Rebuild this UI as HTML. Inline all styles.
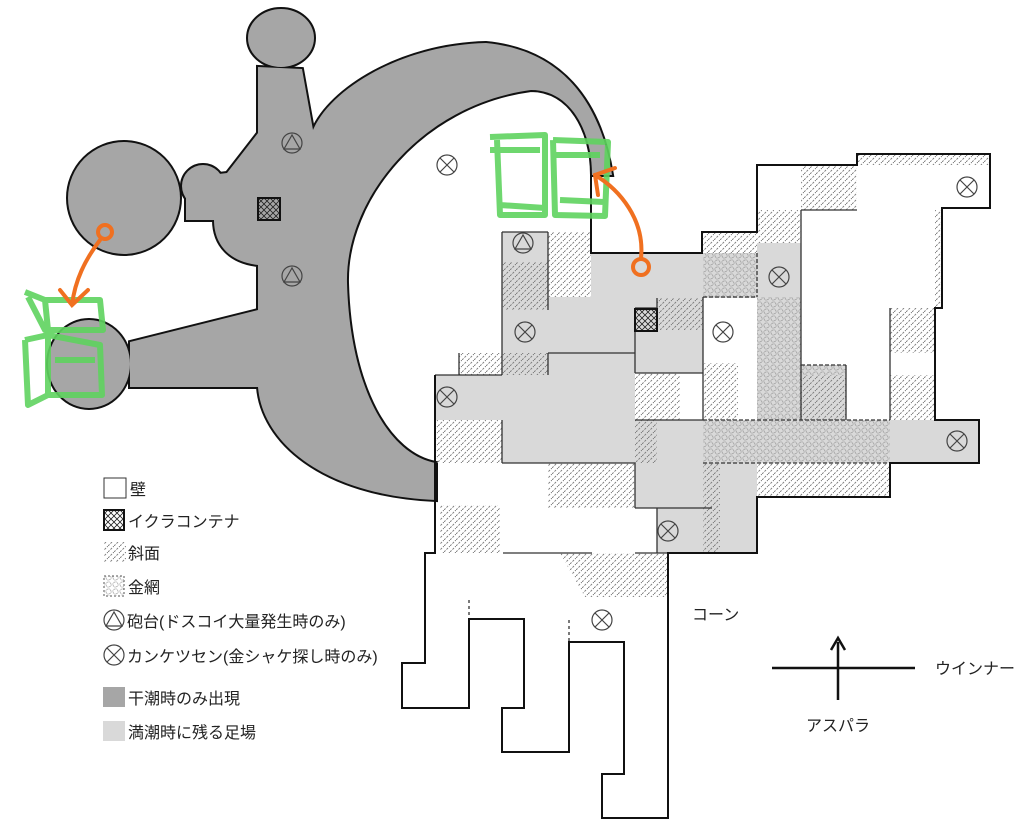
<!DOCTYPE html>
<html><head><meta charset="utf-8"><style>
html,body{margin:0;padding:0;background:#fff;}
svg{display:block;}
text{font-family:"Liberation Sans","Noto Sans CJK JP",sans-serif;font-size:16px;fill:#222;}
</style></head><body>
<svg width="1024" height="832" viewBox="0 0 1024 832" xmlns="http://www.w3.org/2000/svg">
<defs>
<pattern id="h" width="6" height="6" patternUnits="userSpaceOnUse">
<line x1="0" y1="6" x2="6" y2="0" stroke="#777" stroke-width="0.9" stroke-dasharray="2.2,1.3"/>
</pattern>
<pattern id="m" width="7" height="7" patternUnits="userSpaceOnUse">
<circle cx="3.5" cy="3.5" r="2.6" fill="none" stroke="#7a7a7a" stroke-width="0.8" stroke-dasharray="1,1"/>
</pattern>
<pattern id="x" width="6" height="6" patternUnits="userSpaceOnUse">
<path d="M0,0L6,6M6,0L0,6" stroke="#222" stroke-width="0.8"/>
</pattern>
</defs>

<!-- dark gray low-tide area -->
<g fill="#a6a6a6" stroke="#111" stroke-width="4">
<path d="M258,67 L258,133 L227,173 L186,178 L186,220 L214,220 C214,245 230,262 258,265 L258,310 L130,342 L130,387 L258,387 C262,440 320,495 436,500 L436,463 C390,455 350,390 347,283 C345,200 420,105 531,90 C570,90 592,130 592,175 L612,175 C600,100 560,50 486,43 C400,45 330,90 313,130 L302,69 Z"/>
<ellipse cx="281" cy="38" rx="33" ry="29"/>
<ellipse cx="124" cy="198" rx="56" ry="56"/>
<circle cx="203" cy="186" r="21"/>
<ellipse cx="89" cy="364" rx="41" ry="44"/>
</g>
<g fill="#a6a6a6">
<path d="M258,67 L258,133 L227,173 L186,178 L186,220 L214,220 C214,245 230,262 258,265 L258,310 L130,342 L130,387 L258,387 C262,440 320,495 436,500 L436,463 C390,455 350,390 347,283 C345,200 420,105 531,90 C570,90 592,130 592,175 L612,175 C600,100 560,50 486,43 C400,45 330,90 313,130 L302,69 Z"/>
<ellipse cx="281" cy="38" rx="33" ry="29"/>
<ellipse cx="124" cy="198" rx="56" ry="56"/>
<circle cx="203" cy="186" r="21"/>
<ellipse cx="89" cy="364" rx="41" ry="44"/>
</g>

<!-- light gray high-tide -->
<g fill="#d9d9d9">
<rect x="502" y="232" width="46" height="143"/>
<rect x="548" y="297" width="87" height="56"/>
<rect x="591" y="253" width="166" height="45"/>
<rect x="635" y="297" width="68" height="76"/>
<rect x="435" y="375" width="67" height="45"/>
<rect x="502" y="353" width="133" height="110"/>
<rect x="635" y="420" width="122" height="88"/>
<rect x="657" y="508" width="100" height="45"/>
<rect x="757" y="243" width="44" height="177"/>
<rect x="801" y="365" width="45" height="55"/>
<rect x="703" y="420" width="276" height="43"/>
</g>
<!-- mesh -->
<g fill="url(#m)">
<rect x="703" y="253" width="54" height="44"/>
<rect x="757" y="297" width="44" height="123"/>
<rect x="703" y="420" width="187" height="43"/>
<rect x="801" y="365" width="45" height="10"/>
</g>
<!-- hatch -->
<g fill="url(#h)">
<rect x="548" y="232" width="43" height="65"/>
<rect x="502" y="262" width="46" height="48"/>
<rect x="459" y="353" width="89" height="22"/>
<rect x="435" y="420" width="67" height="43"/>
<rect x="757" y="210" width="44" height="33"/>
<rect x="702" y="233" width="55" height="20"/>
<rect x="801" y="165" width="56" height="45"/>
<rect x="857" y="155" width="133" height="10"/>
<rect x="935" y="210" width="7" height="98"/>
<rect x="890" y="308" width="45" height="45"/>
<rect x="890" y="375" width="45" height="45"/>
<rect x="657" y="298" width="46" height="32"/>
<rect x="635" y="373" width="45" height="47"/>
<rect x="703" y="363" width="35" height="57"/>
<rect x="635" y="420" width="22" height="43"/>
<rect x="703" y="463" width="17" height="90"/>
<rect x="757" y="463" width="133" height="34"/>
<rect x="801" y="375" width="45" height="45"/>
<rect x="548" y="463" width="87" height="45"/>
<rect x="440" y="505" width="60" height="48"/>
<path d="M560,553 L667,553 L667,597 L585,597 Z"/>
</g>

<!-- thin internal walls -->
<g stroke="#333" stroke-width="1.3" fill="none">
<path d="M801,210H857 M801,210V420 M846,365V420 M890,308V420 M703,297V420 M635,420H703"/>
<path d="M502,232H548 M502,232V375 M548,232V310 M548,353H635 M548,353V375 M435,375H502 M459,353V375 M635,308V373 M635,373H703 M635,308H657 M657,298V308 M502,420V463 M502,463H635 M635,463V508 M635,508H712 M657,508V553 M503,553H592 M635,553H668"/>
<path d="M703,297H757 M757,253V297 M703,420H890 M703,463H890 M801,365H846" stroke-dasharray="4,2"/>
<path d="M469,600V619 M569,620V642" stroke-dasharray="3,3"/>
</g>
<!-- outer walls -->
<polyline fill="none" stroke="#111" stroke-width="2" points="591,175 591,253 702,253 702,232 757,232 757,165 857,165 857,154 990,154 990,208 942,208 942,308 935,308 935,420 979,420 979,463 890,463 890,497 757,497 757,553 668,553 668,818 602,818 602,774 624,774 624,642 569,642 569,752 502,752 502,708 524,708 524,619 469,619 469,708 402,708 402,663 425,663 425,553 435,553 435,375"/>

<!-- crates -->
<g stroke="#111" stroke-width="2" fill="url(#x)">
<rect x="635" y="309" width="22" height="22"/>
<rect x="258" y="198" width="22" height="22"/>
</g>

<!-- triangles -->
<g fill="none" stroke="#444" stroke-width="1.2">
<circle cx="292" cy="143" r="10"/><path d="M292,135 L284,149 L300,149 Z"/>
<circle cx="292" cy="276" r="10"/><path d="M292,268 L284,282 L300,282 Z"/>
<circle cx="523" cy="243" r="10"/><path d="M523,235 L515,249 L531,249 Z"/>
</g>
<!-- crosses -->
<g fill="none" stroke="#444" stroke-width="1.2">
<g transform="translate(447,165)"><circle r="10"/><path d="M-7,-7L7,7M7,-7L-7,7"/></g>
<g transform="translate(967,187)"><circle r="10"/><path d="M-7,-7L7,7M7,-7L-7,7"/></g>
<g transform="translate(779,277)"><circle r="10"/><path d="M-7,-7L7,7M7,-7L-7,7"/></g>
<g transform="translate(723,332)"><circle r="10"/><path d="M-7,-7L7,7M7,-7L-7,7"/></g>
<g transform="translate(525,332)"><circle r="10"/><path d="M-7,-7L7,7M7,-7L-7,7"/></g>
<g transform="translate(447,397)"><circle r="10"/><path d="M-7,-7L7,7M7,-7L-7,7"/></g>
<g transform="translate(957,441)"><circle r="10"/><path d="M-7,-7L7,7M7,-7L-7,7"/></g>
<g transform="translate(668,531)"><circle r="10"/><path d="M-7,-7L7,7M7,-7L-7,7"/></g>
<g transform="translate(602,620)"><circle r="10"/><path d="M-7,-7L7,7M7,-7L-7,7"/></g>
</g>

<!-- green sketches -->
<g fill="none" stroke="#5fd35f" stroke-width="6" stroke-linejoin="round" opacity="0.9">
<path d="M490,137 L545,135 L545,215 L500,215 L497,140 M490,150 L540,150 M500,205 L545,208"/>
<path d="M553,140 L608,142 L605,216 L555,215 L553,140 M555,155 L600,155 M560,200 L604,202"/>
<path d="M25,292 L45,300 L100,300 L103,330 L45,330 L28,297 M45,300 L48,330"/>
<path d="M25,340 L48,335 L100,345 L102,395 L48,395 L28,405 L25,340 M48,335 L48,395 M55,360 L95,360"/>
</g>
<!-- orange arrows -->
<g fill="none" stroke="#f07020" stroke-width="4" stroke-linecap="round">
<circle cx="105" cy="232" r="7"/>
<path d="M100,240 C85,260 75,280 72,305 M60,290 L72,305 L88,290"/>
<circle cx="641" cy="267" r="8"/>
<path d="M641,258 C645,220 620,190 595,175 M598,195 L595,175 L615,168"/>
</g>

<!-- legend -->
<rect x="104" y="478" width="22" height="20" fill="#fff" stroke="#333" stroke-width="1"/>
<text x="130" y="495">壁</text>
<rect x="104" y="510" width="20" height="20" fill="url(#x)" stroke="#111" stroke-width="2"/>
<text x="128" y="527">イクラコンテナ</text>
<rect x="104" y="542" width="22" height="20" fill="url(#h)"/>
<text x="128" y="559">斜面</text>
<rect x="104" y="576" width="20" height="20" fill="url(#m)" stroke="#555" stroke-width="1" stroke-dasharray="2,2"/>
<text x="128" y="593">金網</text>
<g fill="none" stroke="#444" stroke-width="1.2">
<circle cx="114" cy="620" r="10"/><path d="M114,612 L106,626 L122,626 Z"/>
<g transform="translate(114,655)"><circle r="10"/><path d="M-7,-7L7,7M7,-7L-7,7"/></g>
</g>
<text x="127" y="627">砲台(ドスコイ大量発生時のみ)</text>
<text x="127" y="662">カンケツセン(金シャケ探し時のみ)</text>
<rect x="103" y="687" width="22" height="20" fill="#a6a6a6"/>
<text x="128" y="704">干潮時のみ出現</text>
<rect x="103" y="721" width="22" height="20" fill="#d9d9d9"/>
<text x="128" y="738">満潮時に残る足場</text>

<!-- compass -->
<g stroke="#111" stroke-width="2.5" fill="none">
<path d="M772,668 H915 M838,642 V700"/>
<path d="M831,650 L838,638 L845,650"/>
</g>
<text x="692" y="620">コーン</text>
<text x="935" y="674">ウインナー</text>
<text x="806" y="731">アスパラ</text>
</svg>
</body></html>
